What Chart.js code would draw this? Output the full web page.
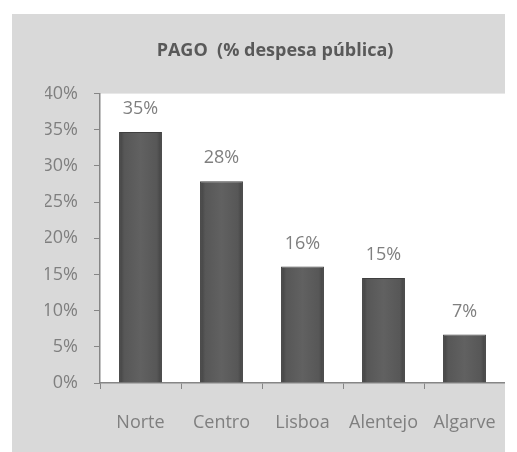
<!DOCTYPE html>
<html>
<head>
<meta charset="utf-8">
<script src="https://cdn.jsdelivr.net/npm/chart.js@4/dist/chart.umd.min.js"></script>
<style>
  html, body { margin: 0; padding: 0; background: #fff; }
  #frame { position: absolute; left: 12px; top: 14px; width: 493px; height: 438px; background: #d9d9d9; }
</style>
</head>
<body>
<div id="frame"><canvas id="chart" width="493" height="438"></canvas></div>
<script>
const regions = ['Norte', 'Centro', 'Lisboa', 'Alentejo', 'Algarve'];
const pago = [34.7, 27.9, 16.1, 14.5, 6.7];
const yTicks = [0, 5, 10, 15, 20, 25, 30, 35, 40];

const colors = {
    bar: '#575757',
    barEdge: '#404040',
    barHi: '#616161',
    axis: '#868686',
    text: '#7f7f7f',
    title: '#595959',
};
const font = '"Open Sans", sans-serif';

function barFill(ctx) {
    const el = ctx.element;
    if (!el || !el.width) return colors.bar;
    const g = ctx.chart.ctx.createLinearGradient(el.x - el.width / 2, 0, el.x + el.width / 2, 0);
    g.addColorStop(0, colors.barEdge);
    g.addColorStop(0.12, colors.bar);
    g.addColorStop(0.5, colors.barHi);
    g.addColorStop(0.88, colors.bar);
    g.addColorStop(1, colors.barEdge);
    return g;
}

const plotBackground = {
    id: 'plotBackground',
    beforeDraw(chart) {
        const { ctx, chartArea: a } = chart;
        ctx.save();
        ctx.fillStyle = '#ffffff';
        ctx.fillRect(a.left, a.top, a.right - a.left, a.bottom - a.top);
        ctx.restore();
    },
};

const valueLabels = {
    id: 'valueLabels',
    afterDatasetsDraw(chart) {
        const { ctx } = chart;
        const meta = chart.getDatasetMeta(0);
        ctx.save();
        ctx.font = '18px ' + font;
        ctx.fillStyle = colors.text;
        ctx.textAlign = 'center';
        ctx.textBaseline = 'middle';
        meta.data.forEach((bar, i) => {
            ctx.fillText(Math.round(pago[i]) + '%', bar.x, bar.y - 23);
        });
        ctx.restore();
    },
};

const chart = new Chart(document.getElementById('chart'), {
    type: 'bar',
    data: {
        labels: regions,
        datasets: [{
            data: pago,
            backgroundColor: barFill,
            borderColor: colors.barEdge,
            borderWidth: 1,
            categoryPercentage: 1,
            barPercentage: 0.53,
        }],
    },
    options: {
        responsive: false,
        animation: false,
        layout: { padding: { left: 33, right: 0, top: 0, bottom: 0 } },
        plugins: {
            legend: { display: false },
            tooltip: { enabled: false },
            title: {
                display: true,
                text: 'PAGO  (% despesa pública)',
                color: colors.title,
                font: { family: font, size: 18, weight: 'bold' },
                padding: { top: 26, bottom: 32 },
            },
        },
        scales: {
            x: {
                grid: { display: true, drawOnChartArea: false, color: colors.axis, tickLength: 6, offset: true },
                border: { color: colors.axis, width: 1.5 },
                ticks: { color: colors.text, font: { family: font, size: 18 }, padding: 23, maxRotation: 0, autoSkip: false },
                afterFit(scale) {
                    scale.height = 69;
                    scale.paddingLeft = 0;
                    scale.paddingRight = 0;
                },
            },
            y: {
                min: 0,
                max: 40,
                afterBuildTicks(scale) { scale.ticks = yTicks.map((v) => ({ value: v })); },
                grid: { display: true, drawOnChartArea: false, color: colors.axis, tickLength: 6 },
                border: { color: colors.axis, width: 1.5 },
                ticks: {
                    color: colors.text,
                    font: { family: font, size: 18 },
                    padding: 16,
                    callback: (v) => v + '%',
                },
                afterFit(scale) {
                    scale.width = 55;
                    scale.paddingTop = 0;
                    scale.paddingBottom = 0;
                },
            },
        },
    },
    plugins: [plotBackground, valueLabels],
});
chart.update('none');
</script>
</body>
</html>
